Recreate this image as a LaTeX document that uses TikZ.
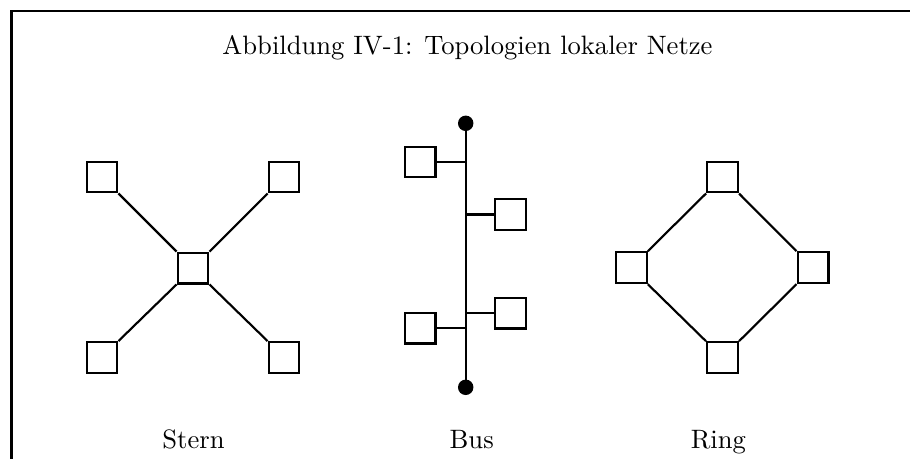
\documentclass[tikz,border=0pt]{standalone}
\begin{document}
\begin{tikzpicture}[x=0.3759pt,y=-0.3759pt,
  station/.style={draw,line width=0.8pt,inner sep=0pt,minimum size=11.6pt,fill=white},
  link/.style={line width=0.8pt},
  busend/.style={circle,fill=black,inner sep=0pt,minimum size=5.8pt},
  caption/.style={anchor=base,inner sep=0pt}]
  \useasboundingbox (0,0) rectangle (910,458);
  \clip (0,0) rectangle (910,458);
  % outer frame
  \draw[line width=0.8pt] (11.5,11) rectangle (940,490);
  \node[caption] (title) at (467.5,54) {Abbildung IV-1: Topologien lokaler Netze};

  % star topology
  \node[station] (sc)  at (193,268) {};
  \node[station] (stl) at (102,177) {};
  \node[station] (str) at (284,177) {};
  \node[station] (sbl) at (102,357.5) {};
  \node[station] (sbr) at (284,357.5) {};
  \draw[link] (stl.south east) -- (sc.north west);
  \draw[link] (str.south west) -- (sc.north east);
  \draw[link] (sbl.north east) -- (sc.south west);
  \draw[link] (sbr.north west) -- (sc.south east);
  \node[caption] (lstern) at (193.5,448) {Stern};

  % bus topology
  \node[busend] (btop) at (465.7,123.3) {};
  \node[busend] (bbot) at (465.7,387.3) {};
  \draw[link] (btop.center) -- (bbot.center);
  \node[station] (bl1) at (420,162) {};
  \node[station] (br1) at (510.5,214.5) {};
  \node[station] (br2) at (510.5,313) {};
  \node[station] (bl2) at (420,328) {};
  \draw[link] (bl1.east) -- (bl1.east -| btop.center);
  \draw[link] (br1.west) -- (br1.west -| btop.center);
  \draw[link] (br2.west) -- (br2.west -| btop.center);
  \draw[link] (bl2.east) -- (bl2.east -| btop.center);
  \node[caption] (lbus) at (471.7,448) {Bus};

  % ring topology
  \node[station] (rt) at (722.5,177) {};
  \node[station] (rl) at (631.3,267.7) {};
  \node[station] (rr) at (813,267.7) {};
  \node[station] (rb) at (722.5,357.7) {};
  \draw[link] (rt.south west) -- (rl.north east);
  \draw[link] (rt.south east) -- (rr.north west);
  \draw[link] (rl.south east) -- (rb.north west);
  \draw[link] (rr.south west) -- (rb.north east);
  \node[caption] (lring) at (718.4,448) {Ring};
\end{tikzpicture}
\end{document}
